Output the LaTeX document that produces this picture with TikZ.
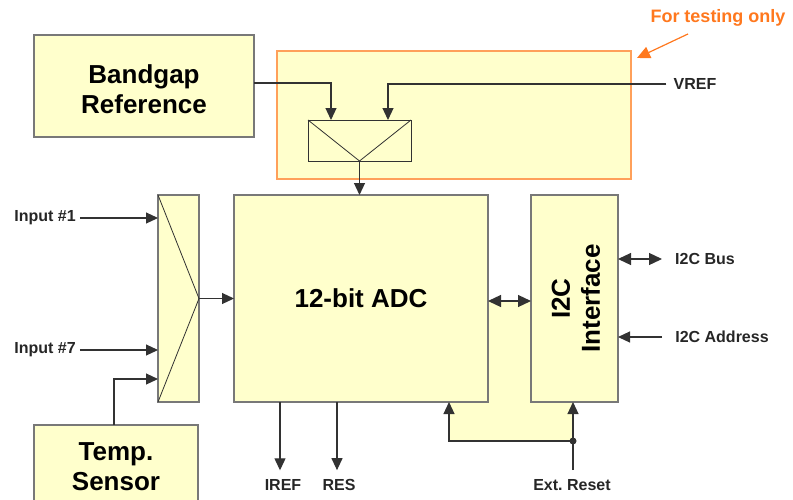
\documentclass[tikz,border=0pt]{standalone}
\usepackage{fontspec}
\setmainfont{Liberation Sans}
\usetikzlibrary{arrows.meta,calc}
\definecolor{boxfill}{RGB}{255,255,204}
\definecolor{boxline}{RGB}{120,120,120}
\definecolor{wire}{RGB}{50,50,50}
\definecolor{orng}{RGB}{255,120,30}
\definecolor{orngline}{RGB}{255,160,90}
\tikzset{
  blk/.style={draw=boxline, line width=1.2pt, fill=boxfill, inner sep=0pt, outer sep=0pt},
  big/.style={font=\fontsize{26}{30}\selectfont\bfseries, align=center},
  lbl/.style={font=\fontsize{16}{19}\selectfont\bfseries, text=black!85, inner sep=1pt},
  wr/.style={draw=wire, line width=1.2pt},
  arr/.style={wr, -{Triangle[length=12pt,width=11pt]}},
  darr/.style={wr, {Triangle[length=13pt,width=12pt]}-{Triangle[length=13pt,width=12pt]}},
  mx/.style={draw=wire, line width=0.8pt},
}
\begin{document}
\begin{tikzpicture}[x=1pt,y=-1pt]
\useasboundingbox (0,0) rectangle (793,499);
% background fill region for reset loop
\fill[boxfill] (488,301) -- (531,301) -- (531,402) -- (573,402) -- (573,441) -- (449,441) -- (449,402) -- (488,402) -- cycle;
% blocks
\node[blk, minimum width=220pt, minimum height=102pt] (bandgap) at (144,86) {};
\node[big] (bgtext) at (144,89) {Bandgap\\Reference};
\node[blk, draw=orngline, line width=1.5pt, minimum width=354pt, minimum height=128pt] (testbox) at (454,115) {};
\node[blk, draw=wire, line width=1pt, minimum width=103pt, minimum height=41pt] (vmux) at (359.5,140.5) {};
\draw[mx] (vmux.north west) -- (vmux.south) -- (vmux.north east);
\node[blk, minimum width=254pt, minimum height=207pt] (adc) at (361,298.5) {};
\node[big] (adctext) at (361,298.5) {12-bit ADC};
\node[blk, minimum width=41pt, minimum height=207pt] (imux) at (178.5,298.5) {};
\draw[mx] (imux.north west) -- (imux.east) -- (imux.south west);
\node[blk, minimum width=87pt, minimum height=207pt] (i2c) at (574.5,298.5) {};
\node[big, rotate=90] (i2ctext) at (576,298.5) {I2C\\Interface};
\node[blk, minimum width=164pt, minimum height=86pt] (temp) at (116,468) {};
\node[big] (temptext) at (116,467) {Temp.\\Sensor};
% labels
\node[lbl] (vref) at (695,84) {VREF};
\node[lbl] (in1) at (45,218) {Input \#1};
\node[lbl] (in7) at (45,350) {Input \#7};
\node[lbl] (bus) at (705,259) {I2C Bus};
\node[lbl] (addr) at (722,337) {I2C Address};
\node[lbl] (iref) at (283,485) {IREF};
\node[lbl] (res) at (339,485) {RES};
\node[lbl] (ext) at (572,485) {Ext.\ Reset};
\node[font=\fontsize{18}{21}\selectfont\bfseries, text=orng] (note) at (718,18) {For testing only};
% connectors
\draw[arr] ([yshift=3pt]bandgap.east) -| ([xshift=-28.5pt]vmux.north);
\draw[arr] ([xshift=-6pt]vref.west) -| ([xshift=28.5pt]vmux.north);
\draw[arr] (vmux.south) -- (vmux.south |- adc.north);
\draw[arr] ([xshift=3pt]in1.east) -- (in1.east -| imux.west);
\draw[arr] ([xshift=3pt]in7.east) -- (in7.east -| imux.west);
\draw[arr] ([xshift=-2pt]temp.north) |- ([yshift=-80.5pt]imux.west);
\draw[arr] (imux.east) -- (adc.west);
\draw[darr] ([yshift=-2.5pt]adc.east) -- ([yshift=-2.5pt]i2c.west);
\draw[darr] (i2c.east |- bus.west) -- ([xshift=-12pt]bus.west);
\draw[arr] ([xshift=-12pt]addr.west) -- (addr.west -| i2c.east);
\draw[arr] ([xshift=-3pt]iref.north |- adc.south) -- ([xshift=-3pt,yshift=8pt]iref.north);
\draw[arr] ([xshift=-2pt]res.north |- adc.south) -- ([xshift=-2pt,yshift=8pt]res.north);
\coordinate (rst) at (573,441);
\draw[wr] ([xshift=1pt,yshift=8pt]ext.north) -- (rst);
\draw[arr] (rst) -- (rst |- i2c.south);
\draw[arr] (rst) -| ([xshift=88pt]adc.south);
\fill[wire] (rst) circle (3.5pt);
\draw[draw=orng, line width=1.2pt, -{Triangle[length=13pt,width=12pt]}] ([xshift=-30pt,yshift=-4pt]note.south) -- ([xshift=6pt,yshift=-7pt]testbox.north east);
\end{tikzpicture}
\end{document}
